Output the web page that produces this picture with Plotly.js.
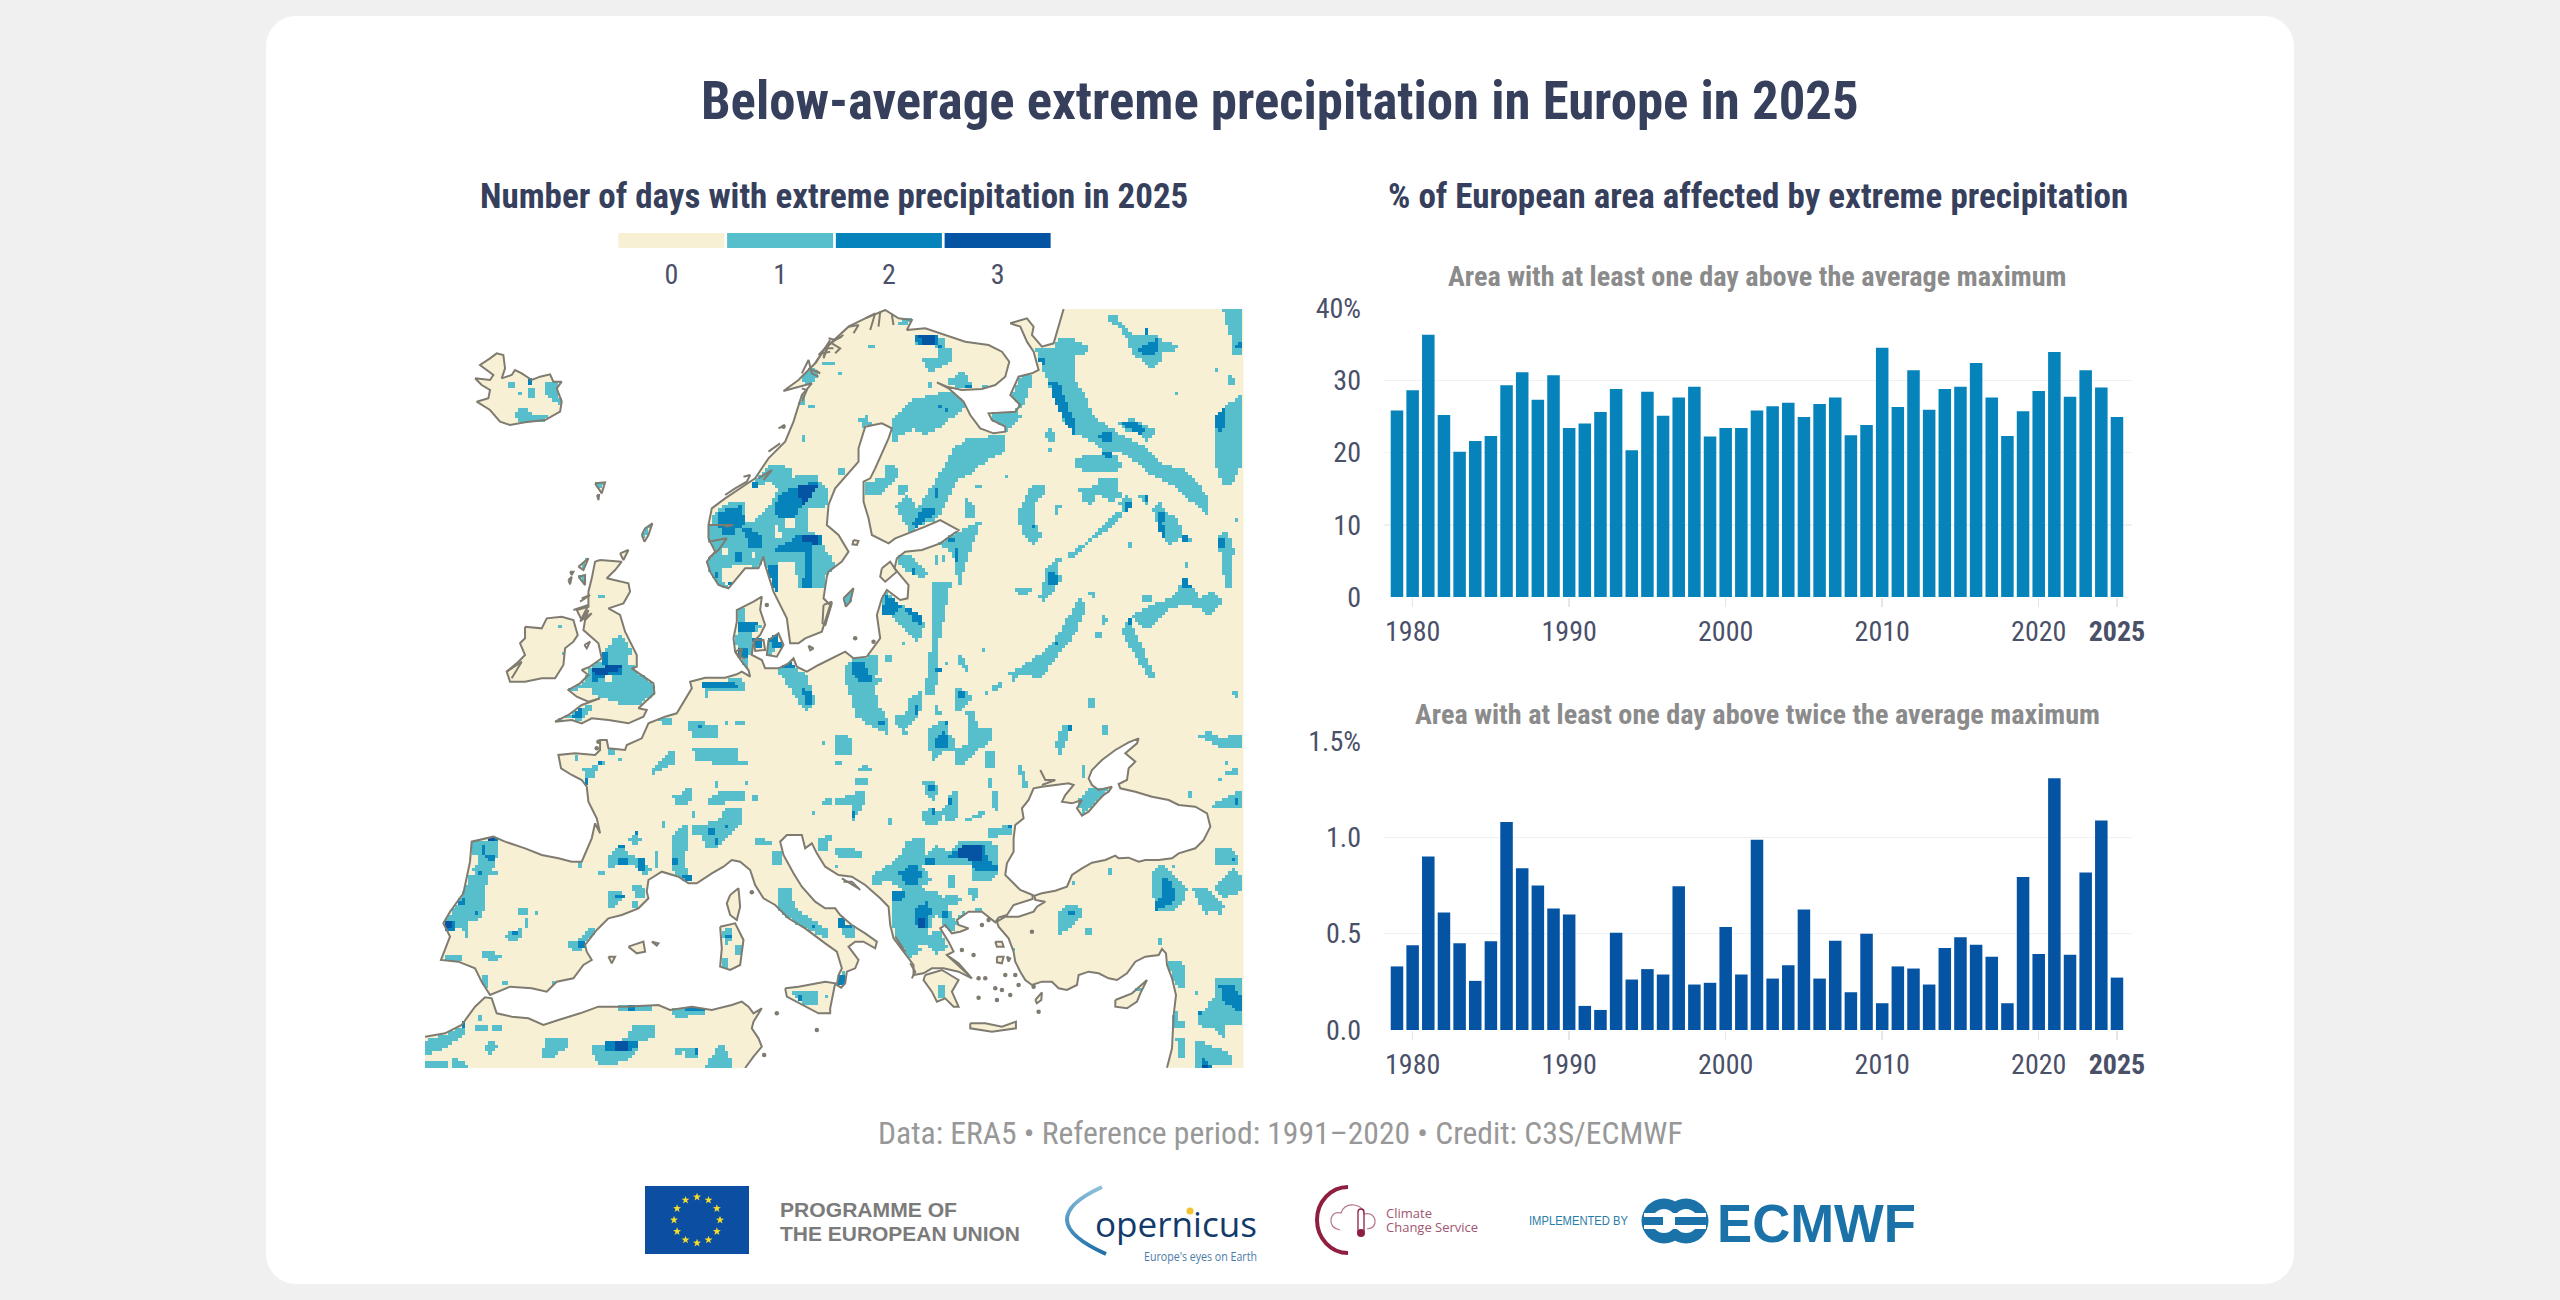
<!DOCTYPE html>
<html><head><meta charset="utf-8">
<script src="https://cdn.plot.ly/plotly-3.0.1.min.js"></script>
<style>
html,body{margin:0;padding:0;background:#f0f0f0;width:2560px;height:1300px;overflow:hidden}
#back{position:absolute;left:0;top:0}
#chart{position:absolute;left:0;top:0;width:2560px;height:1300px}
#chart text{font-stretch:75%!important}
</style></head><body>
<svg id="back" width="2560" height="1300" viewBox="0 0 2560 1300">
<defs><linearGradient id="cop" x1="0" y1="0" x2="0" y2="1"><stop offset="0" stop-color="#8cc0dc"/><stop offset="1" stop-color="#1f6fa8"/></linearGradient></defs>
<rect x="266" y="16" width="2028" height="1268" rx="30" fill="#fff"/>
<rect x="645" y="1186" width="104" height="68" fill="#0b4ea2"/>
<g id="stars" fill="#f5dd2a"></g>
<text x="780" y="1217" font-family="Liberation Sans" font-weight="700" font-size="21" textLength="177" lengthAdjust="spacingAndGlyphs" fill="#7b7b7b">PROGRAMME OF</text>
<text x="780" y="1241" font-family="Liberation Sans" font-weight="700" font-size="21" textLength="240" lengthAdjust="spacingAndGlyphs" fill="#7b7b7b">THE EUROPEAN UNION</text>
<path d="M1102 1187 Q1030 1220 1106 1254" fill="none" stroke="url(#cop)" stroke-width="4"/>
<text x="1095" y="1237" font-family="Open Sans" font-size="35" textLength="162" lengthAdjust="spacingAndGlyphs" fill="#123a6b">opernicus</text>
<circle cx="1190" cy="1211" r="3.5" fill="#f2c230"/>
<text x="1144" y="1261" font-family="Open Sans" font-size="13.5" textLength="113" lengthAdjust="spacingAndGlyphs" fill="#4b7ba8">Europe's eyes on Earth</text>
<path d="M1348 1187 A31 33 0 0 0 1348 1253" fill="none" stroke="#8e1f3f" stroke-width="4"/>
<path d="M1340 1230 q-10 -2 -9 -11 q2 -8 10 -6 q3 -9 13 -8 q9 1 10 9 q9 -2 11 6 q1 8 -8 9" fill="none" stroke="#b4748a" stroke-width="1.2"/>
<rect x="1358" y="1209" width="6" height="24" rx="3" fill="none" stroke="#8e1f3f" stroke-width="1.3"/>
<circle cx="1361" cy="1233" r="4" fill="#8e1f3f"/>
<text x="1386" y="1218" font-family="Open Sans" font-size="13" fill="#a0566f">Climate</text>
<text x="1386" y="1232" font-family="Open Sans" font-size="13" fill="#a0566f">Change Service</text>
<text x="1529" y="1225" font-family="Liberation Sans" font-size="12" textLength="99" lengthAdjust="spacingAndGlyphs" fill="#2a7ca8">IMPLEMENTED BY</text>
<g fill="#1a72a8"><circle cx="1664" cy="1221" r="22.5"/><circle cx="1686" cy="1221" r="22.5"/></g>
<g fill="#fff"><circle cx="1664" cy="1221" r="12"/><circle cx="1686" cy="1221" r="12"/><rect x="1644" y="1213" width="62" height="4"/><rect x="1644" y="1225" width="62" height="4"/></g>
<rect x="1644" y="1217" width="19" height="8" fill="#1a72a8"/><rect x="1675" y="1217" width="31" height="8" fill="#1a72a8"/>
<text x="1717" y="1242" font-family="Liberation Sans" font-weight="700" font-size="54" textLength="199" lengthAdjust="spacingAndGlyphs" fill="#1a72a8">ECMWF</text>
</svg>
<div id="chart"></div>
<script>
// ---- bar chart data ----
const years=[1979,1980,1981,1982,1983,1984,1985,1986,1987,1988,1989,1990,1991,1992,1993,1994,1995,1996,1997,1998,1999,2000,2001,2002,2003,2004,2005,2006,2007,2008,2009,2010,2011,2012,2013,2014,2015,2016,2017,2018,2019,2020,2021,2022,2023,2024,2025];
const areaAboveMax=[25.8,28.6,36.3,25.2,20.1,21.6,22.3,29.3,31.1,27.3,30.7,23.4,24.0,25.6,28.8,20.3,28.4,25.1,27.6,29.1,22.2,23.4,23.4,25.8,26.4,26.9,24.9,26.7,27.6,22.4,23.8,34.5,26.3,31.4,25.9,28.8,29.1,32.4,27.6,22.3,25.7,28.5,33.9,27.7,31.4,29.0,24.9];
const areaAboveTwiceMax=[0.33,0.44,0.90,0.61,0.45,0.255,0.46,1.08,0.84,0.75,0.63,0.60,0.125,0.104,0.505,0.262,0.316,0.288,0.746,0.236,0.245,0.534,0.288,0.987,0.267,0.336,0.626,0.267,0.463,0.196,0.50,0.139,0.33,0.319,0.236,0.425,0.482,0.442,0.38,0.139,0.794,0.394,1.307,0.39,0.817,1.087,0.272];
const yearTicks=[1980,1990,2000,2010,2020,2025];
const yearLabels=['1980','1990','2000','2010','2020','<b>2025</b>'];
const legendDays=['0','1','2','3'];

// ---- map data: outlines, in map units, per quadrant ----
const offsets={A:[0,0],B:[1200,0],C:[0,1140],D:[1200,1140]};
const mainlandCoast=[
['D',[1025,1148,1040,1090,1045,990,1052,930,1040,880,1025,840,1022,805,1010,792,1000,810,960,815,930,830,905,865,875,885,850,880,820,865,790,860,760,870,755,900,725,915,700,910,680,890,650,890,620,900,600,885,585,860,570,830,565,800,550,760,520,725,515,710,540,695,580,695,625,680,635,665,660,650,630,645,628,632,650,625,690,617,725,605,740,570,770,550,800,533,840,525,870,512,880,520,910,518,940,530,960,525,1000,525,1040,520,1060,505,1110,490,1135,465,1155,425,1145,385,1110,365,1060,360,1030,345,980,335,930,320,885,310,880,297,905,285,910,250,930,230,900,205,935,175,940,160,910,172,870,195,830,225,800,255,790,280,800,300,820,315,860,305,850,320,835,330,820,345,790,380,770,392,755,370,770,345,740,355,710,350,720,330,745,300,730,295,680,300,650,305,625,310,610,345,590,370,595,400,570,420,565,460,565,500,545,535,540,570,560,590,585,615,622,630,622,642,565,660,545,690,520,698,510,712,470,680,430,680,395,705,400,720,430,730,405,740,380,745,360,720,345,730,370,770,385,800,365,810,400,835,440,880,400,860,355,850,320,850,295,865,265,870,265,840,235,800,205,760,195,720,190,665,165,640,120,600,80,575,40,570,0,545]],
['C',[1175,505,1160,475,1140,490,1130,450,1085,450,1065,470,1075,510,1105,565,1130,605,1170,650,1200,670]],
['D',[30,670,45,690,80,720,120,745,155,770,150,790,115,770,90,770,70,785,100,825,90,850,65,860,60,895,48,908,35,900,40,870,50,850,35,800]],
['C',[1200,775,1140,730,1090,700,1050,660,1015,640,990,600,975,555,945,530,920,525,895,545,860,565,815,595,790,595,760,575,710,560,670,585,665,620,670,640,640,670,590,690,550,700,515,735,480,780,485,800,500,825,475,840,445,880,395,890,365,920,320,910,255,905,195,930,170,890,150,850,100,830,48,825,75,755,55,715,75,680,115,625,135,530,140,470,205,455,240,470,300,490,350,510,400,520,440,530,470,530,500,460,510,415,525,445,515,400,490,350,485,305,470,285,440,270,408,250,400,210,450,205,510,210,525,195,525,165,545,165,550,190,600,195,605,180,650,160,670,115,720,95,755,85,770,60,800,10]],
['A',[795,1130,840,1118,900,1118,935,1108,950,1100,975,1115,970,1095,950,1070,930,1040,925,1000,935,950,935,915,985,890,1010,875,1005,915,1020,960,1005,990,985,1010,980,1050,1010,1065,1020,1090,1060,1090,1090,1075,1105,1060,1115,1085,1145,1100,1180,1080,1260,1040]],
['B',[85,1060,125,1055,165,1000,155,930,170,880,185,855,225,885,247,880,250,840,225,810,208,790,215,760,240,740,290,735,345,715,400,675,345,645,300,665,260,680,210,700,190,715,140,690,130,640,115,590,115,530,135,520,150,490,190,400,200,370,170,355,120,365,100,430,100,470,55,520,30,550,10,600,5,660,40,690,70,740,50,770,10,800]],
['A',[1205,815,1195,880,1215,900,1190,980,1140,1000,1120,1015,1095,1015,1085,940,1045,860,1020,780,1015,755,1000,790,960,790,910,850,880,840,855,800,845,770,870,740,850,700,850,660,860,610,900,580,960,540,990,520,1030,460,1080,410,1105,350,1130,270,1160,235,1120,245,1075,258,1120,225,1170,175,1215,105]],
['B',[0,130,70,65,120,40,180,15,220,40,260,45,245,75,300,70,360,90,420,110,490,120,530,140,552,170,540,215,510,240,470,252,410,255,365,245,335,232,370,250,415,290,435,330,465,370,505,385,540,380,540,365,500,345,490,325,570,320,585,300,555,270,580,215,620,205,640,195,625,140,605,110,585,65,555,55,605,40,625,65,620,90,650,125,685,115,695,80,715,12]]
];
const mainlandFrame=[['B',[1255,12]],['D',[1255,1149]]];
const africaCoast=[['C',[0,1055,60,1045,110,1020,150,965,180,937,200,940,215,985,260,995,310,1000,355,1020,400,1005,465,985,520,965,600,965,700,960,735,975,800,965,860,975,920,960,950,950,970,965,985,985,1010,970,985,1010,980,1030,1000,1060,1010,1085,985,1115,960,1149]]];
const africaFrame=[['C',[0,1149]]];
const islandsA=[
[150,220,195,225,205,210,165,180,195,160,215,145,235,150,240,190,230,220,260,210,270,195,290,205,320,225,345,215,375,208,385,230,410,230,395,250,410,290,405,320,360,345,300,352,255,360,225,350,195,315,155,290,190,280,195,255,170,240],
[510,535,540,532,530,565,520,550],[516,570,522,570,520,585],[650,690,660,670,682,655,670,690,658,710],
[300,965,350,970,365,940,410,935,445,945,458,990,445,1010,420,1030,415,1080,390,1120,350,1120,300,1130,255,1130,245,1100,280,1070,300,1050,285,1015,300,1000],
[525,765,590,770,570,795,545,820,610,835,615,860,595,895,550,910,585,930,600,980,635,1050,635,1085,620,1090,685,1135,688,1165,660,1190,640,1210,665,1215,655,1235,610,1255,550,1245,500,1240,470,1255,440,1245,390,1250,430,1230,470,1200,525,1180,490,1190,455,1175,430,1155,465,1135,490,1110,470,1095,495,1085,530,1060,520,1015,475,975,480,945,500,925,470,945,455,915,490,905,490,860,500,820,510,770],
[460,785,490,760,475,795],[460,815,480,810,480,840],[585,745,610,735,595,765],[478,1020,495,1010,485,1030],[435,800,445,800,440,810],[430,825,440,815,435,838],
[985,1005,1015,1005,1020,1035,990,1038],[1030,1005,1060,985,1075,1020,1055,1055,1025,1050],[930,1040,950,1030,945,1060],[1150,1022,1165,1030,1155,1036]
];
const islandsB=[[55,880,85,850,75,890,62,905],[170,790,195,770,215,800,180,830,165,815],[85,705,100,708,95,720,82,718],[-5,900,20,890,0,960,-8,955]];
const islandsC=[
[915,630,940,610,945,665,935,705,915,690,905,655],[885,725,930,715,955,765,945,840,915,855,885,845,890,790],
[610,785,655,770,660,800,635,805],[680,770,700,775,695,782],[550,815,570,815,560,835],
[1080,910,1120,905,1200,890,1230,895,1215,970,1215,985,1180,985,1130,960,1085,935]
];
const islandsD=[
[300,870,350,855,400,885,380,920,400,965,385,965,360,940,335,950,320,920,295,885],
[435,1015,480,1015,530,1025,572,1010,572,1030,500,1040,435,1030],
[870,945,920,925,965,885,945,925,935,950,905,970,870,965],
[630,945,650,922,648,945,635,955],[510,770,530,770,535,785,515,785],[515,815,535,815,530,835,515,832],[545,815,555,820,550,830]
];
const coastDetailA=[[1130,205,1150,165,1160,205,1180,215],[1170,175,1190,145,1215,140],[1210,100,1230,105,1250,95],[850,660,925,660,900,665],[850,710,905,700,880,735,850,760],[955,515,975,510,965,530,930,550,900,570],[1000,520,1040,495,1015,525],[1030,440,1065,415],[445,915,490,900,470,940],[1220,895,1200,960],[1060,370,1080,360],[1170,195,1185,205,1150,190],[1130,250,1145,255,1130,290],[1195,155,1205,130,1225,130],[950,1030,940,1055,960,1060],[470,880,495,870,465,890],[465,950,490,915,480,945],[245,1100,290,1070,260,1120]];
const coastDetailB=[[0,130,30,105,55,90],[70,65,100,60,85,85],[120,40,150,25,135,75],[165,20,160,65],[200,30,205,60],[20,115,45,130,30,145],[-20,150,10,120,-5,160]];
const coastDetailD=[[50,580,100,610],[55,590,80,590,105,615],[645,255,660,285,690,285,650,300],[365,810,430,870],[255,835,270,860,260,880],[210,755,240,800,225,785]];
const islets=[[1820,1880],[1670,1860],[1690,1845],[1610,1935],[1645,1950],[1660,2020],[1680,2020],[1710,2050],[1730,2055],[1660,2078],[1715,2085],[1755,2070],[1840,2120],[1770,2010],[1740,2010],[1780,2040],[1825,2045],[1055,2125],[1175,2175],[980,1762],[1017,2250],[520,1310],[515,1330],[1290,1000],[1345,1010],[1025,900],[1075,365]];

const level1A=[
[365,235,395,232,415,300,385,290,365,265],[275,320,300,305,325,325,370,330,365,345,290,355,275,340],[250,235,268,235,268,250,250,250],[310,250,328,245,328,278,310,278],[280,265,290,265,285,275],
[455,775,490,755,480,795],[460,810,485,810,480,840],[510,530,540,530,530,555,515,550],[650,690,680,655,660,705],[522,868,542,868,542,882,522,882],[403,962,413,962,413,975,403,975],[412,1042,420,1042,420,1052,412,1052],
[1115,200,1150,165,1180,210,1160,240,1130,230],[1195,170,1232,170,1232,185,1195,185],[1245,198,1250,198,1250,212,1245,212],[1130,275,1145,275,1145,295,1105,315,1125,290],[1150,300,1170,300,1170,315,1150,315],[1130,392,1138,392,1138,408,1130,408],
[1000,515,1045,475,1070,480,1100,490,1100,520,1130,510,1180,510,1185,530,1210,550,1205,605,1150,610,1145,680,1190,690,1195,720,1225,770,1230,800,1195,850,1150,850,1120,850,1110,770,1060,770,1050,860,1030,800,1015,760,1000,800,960,775,895,790,890,830,930,855,905,855,880,850,855,800,850,720,855,660,870,620,920,590,960,595,958,650,975,655,1020,620,1045,585,1060,555,1030,530,990,548,985,530],
[1245,495,1260,495,1260,510,1245,510],
[945,915,965,910,960,945,940,950],[945,955,1000,955,1015,965,985,985,975,1050,945,1050,930,1010],[1020,1000,1060,985,1070,1025,1030,1050],[990,1010,1015,1010,1015,1035,990,1035],[945,1050,975,1050,975,1080,950,1095],
[1065,1075,1100,1070,1125,1100,1145,1105,1165,1170,1170,1200,1150,1220,1135,1210,1100,1160,1065,1110],
[835,1135,945,1120,965,1130,965,1155,855,1160,850,1185,845,1185],
[585,990,600,1000,620,1040,605,1070,635,1085,685,1130,690,1165,645,1200,600,1200,530,1180,500,1165,495,1145,430,1165,430,1150,470,1135,500,1080,530,1070,540,1040,555,1020,560,1005]
];
const level1B=[
[230,40,260,45,245,65,225,55],[265,90,335,90,360,105,355,140,340,135,330,125,270,125],[295,165,335,160,345,130,380,135,380,170,340,190,325,205,300,190],[315,230,325,230,325,255,315,255],[375,225,410,200,430,215,445,245,430,255,375,240],[470,240,490,240,490,250,470,250],[135,120,148,120,148,135,135,135],[15,168,30,168,30,182,15,182],[45,200,50,200,50,212,45,212],[0,170,10,170,10,182,0,182],
[200,350,260,285,340,265,385,262,420,295,410,320,375,345,345,370,300,390,265,370,225,395,210,420,195,400],[100,345,130,330,140,360,115,370],
[555,275,590,215,625,215,600,300,570,325,555,315],[495,320,580,320,590,335,545,385,540,365,500,345],
[430,400,545,390,535,440,470,480,440,510,400,520,360,600,340,640,290,660,260,690,210,600,250,570,275,610,310,560,350,495,385,430],
[120,530,180,520,175,480,210,475,222,510,190,550,150,575,120,575],[40,495,60,495,60,510,40,510],[225,545,255,545,240,570,225,570],[415,590,430,580,455,620,450,645,425,635],
[345,700,400,680,470,645,450,700,425,770,410,810,405,845,395,810,385,760,375,735,345,720],[450,540,468,540,468,550,450,550],[540,510,550,510,550,525,540,525],
[215,750,255,745,300,790,315,805,300,820,270,810,230,790],[333,755,340,755,340,785,333,785],[350,755,357,755,352,785,345,785],
[165,875,190,860,215,890,260,915,300,950,280,1020,235,970,205,940,170,920],[325,835,380,825,365,900,345,1000,345,1090,330,1170,295,1170,310,1090,320,990,315,900],[55,880,80,860,75,890,60,900],
[65,1080,85,1065,160,1050,165,1100,150,1120,175,1120,150,1140,145,1170,75,1170,60,1130],[185,1055,200,1055,195,1075,185,1075],[395,1050,405,1050,435,1090,430,1100,400,1070],[360,1070,370,1070,370,1080,360,1080],[470,1030,480,1030,480,1045,470,1045],[228,1005,235,1005,235,1015,228,1015],
[852,35,875,25,890,60,925,90,970,95,995,90,1015,115,1040,115,1065,130,1040,140,1015,145,1010,160,985,195,960,170,925,150,905,100,880,65,855,50],
[625,130,690,125,700,100,740,100,795,130,780,150,755,155,755,230,790,290,800,330,850,365,905,400,960,425,1020,480,1070,490,1115,525,1155,590,1150,630,1100,590,1040,540,980,510,930,470,885,440,840,440,800,410,745,385,715,345,690,290,660,210,640,150],
[750,460,820,445,880,455,890,490,850,505,780,500,755,485],[885,355,925,340,960,360,995,375,970,410,940,385,900,375],[1170,340,1200,305,1250,270,1255,390,1250,480,1220,540,1195,540,1175,490,1170,400],[1195,15,1255,15,1255,150,1225,150,1220,110,1205,60],
[1205,200,1225,215,1230,245,1210,245],[1170,190,1175,190,1175,200,1170,200],[1050,258,1058,258,1058,270,1050,270],[1228,640,1236,640,1236,650,1228,650],[665,380,680,365,690,395,700,415,685,415,665,400],[668,430,680,430,680,445,668,445],
[580,625,610,560,630,540,665,535,660,565,630,600,630,650,650,695,630,720,590,685],[690,600,708,595,700,630,690,630],[762,555,815,540,825,525,875,520,890,580,860,590,815,570,800,600,775,590],[880,590,910,570,925,600,895,620],
[725,750,800,700,860,640,880,620,900,615,870,660,810,700,740,760],[660,800,680,770,720,755,695,780,710,830,690,850,655,890,640,880,650,860],[575,855,600,845,625,860,580,875],[945,575,970,570,975,600,950,590],
[980,610,1010,590,1020,620,1060,640,1075,700,1030,720,1000,660],[1070,700,1095,695,1100,715,1070,715],[1180,690,1205,680,1230,740,1215,770,1225,850,1205,855,1190,780],[912,715,925,715,925,728,912,728],
[915,930,1000,890,1040,880,1080,820,1100,840,1125,880,1165,860,1200,890,1150,935,1130,910,1075,900,1040,910,965,975],[950,875,980,870,980,885,950,890],[795,865,815,860,815,875,800,880],[1085,775,1095,775,1095,790,1085,790],
[555,1105,620,1065,680,1020,750,900,770,880,785,900,755,980,700,1050,650,1120,590,1110,560,1130],[835,930,850,950,835,960],[810,985,830,985,830,995,815,1000],[890,980,905,950,930,980,990,1110,980,1125,945,1080],[520,1130,530,1130,525,1150,510,1150]
];
const level1C=[
[395,110,440,85,470,70,500,60,495,85,465,110,430,100],[705,105,745,95,745,120,710,122],[790,115,815,110,880,125,875,165,800,155],[902,110,912,110,912,122,902,122],[930,112,958,112,958,125,930,125],
[805,195,880,190,935,185,940,230,972,232,972,245,880,240,815,225],[678,255,720,210,750,200,750,235,720,250,680,268],[1195,170,1205,170,1205,185,1195,185],[1235,155,1260,150,1260,210,1235,210],[1228,228,1248,225,1248,240,1228,240],
[875,290,885,290,885,315,875,315],[965,292,975,292,975,305,965,305],[745,335,770,330,790,310,802,310,800,350,775,365,748,365],[850,340,890,320,960,320,960,350,905,355,855,358],[980,335,1000,335,1000,348,982,348],[1195,350,1215,340,1215,360,1195,360],[1235,340,1260,335,1260,358,1235,358],[1162,380,1172,380,1172,392,1162,392],[805,385,815,385,815,400,805,400],[708,408,720,408,720,435,708,435],
[800,420,830,420,880,410,900,370,950,365,950,420,900,465,870,490,845,490,830,455,805,455],[745,450,775,420,790,425,785,500,780,540,800,590,775,590,740,555,745,500],[615,465,635,445,650,465,630,480],[555,510,580,485,600,495,635,520,680,555,660,570,630,545,590,540,555,550],[690,510,705,495,705,550,690,550],[525,560,538,560,538,575,525,575],[465,535,475,535,475,548,465,548],
[555,615,590,625,590,650,570,670,550,670,545,640],[620,605,650,595,665,625,655,640,635,640],[625,652,638,652,638,668,625,668],[988,455,1040,470,1040,485,990,482],[1040,505,1070,505,1075,545,1040,545],[1180,460,1215,450,1215,495,1180,500],[1055,610,1095,605,1110,670,1150,695,1210,740,1205,765,1150,735,1100,715,1065,680],
[455,215,465,215,465,228,455,228],[475,255,520,235,510,280,480,285],[525,230,548,230,540,243,525,243],[585,222,595,222,595,235,585,235],[550,190,575,190,565,212,555,212],
[140,475,225,465,215,520,200,560,225,555,220,570,195,570,175,630,180,670,160,710,135,710,130,760,120,760,110,725,65,740,55,720,105,640,135,575,160,575,140,550,165,530,165,510,140,505],
[285,670,310,670,305,695,285,695],[332,678,345,678,345,690,332,690],[300,705,315,705,310,728,300,728],[235,750,290,730,295,755,270,770,240,760],[170,795,230,810,220,830,170,820],[65,815,115,810,110,835,65,825],[432,775,455,770,480,740,525,725,480,780,470,805,450,800,435,790],[165,870,185,870,195,925,180,915],[235,888,248,888,248,900,235,900],[380,890,400,885,375,915],
[160,995,172,995,172,1008,160,1008],[150,1025,190,1020,190,1045,155,1040],[205,1022,230,1022,230,1038,205,1035],[0,1068,70,1045,125,1020,120,1050,90,1070,50,1095,0,1110],[190,1070,205,1065,218,1090,195,1110,180,1095],[350,1105,365,1065,430,1060,430,1085,385,1118,355,1118],
[500,1080,545,1075,610,1060,620,1020,690,1020,690,1060,640,1075,640,1100,600,1130,540,1145,510,1130],[748,1092,820,1092,820,1125,785,1125,780,1100,750,1115],[845,1140,880,1085,900,1085,925,1135,925,1148,845,1148],[0,1130,75,1135,75,1148,0,1148],[85,1120,105,1125,130,1148,85,1148],
[740,975,790,960,840,965,840,990,750,1000],[585,965,685,960,685,975,635,985,585,985],[890,740,925,725,925,765,900,780,895,760],[935,785,950,785,950,810,935,810],[892,825,915,825,915,850,895,850],[1100,925,1185,918,1180,965,1135,955],[1200,935,1210,935,1210,945,1200,945],[1240,870,1260,860,1260,905,1240,905]
];
const level1D=[
[75,0,150,0,160,60,195,115,190,150,130,120,95,95,80,50],[210,95,245,85,250,40,295,15,295,60,280,95,265,115,240,130,255,155,235,155,225,125,210,120],[325,60,340,55,350,95,335,95],[388,40,395,15,415,15,445,40,420,60,405,85,390,70],[310,130,345,110,370,115,375,150,395,175,385,200,350,200,325,235,315,200],[425,85,450,80,460,130,500,130,500,170,460,195,420,235,390,240,385,200,430,175],
[482,205,510,205,512,250,482,250],[493,282,505,282,505,308,493,308],[500,325,518,325,522,380,510,380,495,350],[578,245,590,245,610,310,595,310],[30,165,65,150,80,165,75,210,40,210],[25,228,45,228,45,240,27,240],[105,250,125,235,145,260,105,265],[90,283,135,280,135,295,90,297],[295,295,325,285,345,320,325,350,305,325],
[35,345,90,325,120,320,120,350,95,395,80,415,78,360,35,358],[0,340,20,335,20,360,0,360],[285,380,330,370,345,385,370,350,380,320,400,320,400,360,395,405,365,410,350,385,345,415,300,420],[425,402,480,378,480,390,425,412],[190,405,200,405,200,420,190,420],[495,435,555,420,565,440,550,450,495,458],[0,450,18,450,10,495,0,495],[30,495,70,490,115,500,115,518,40,515],[35,540,45,540,45,555,35,555],
[145,570,215,525,245,470,295,455,300,510,335,480,370,505,400,470,470,465,515,480,525,560,490,590,445,585,440,540,385,535,355,545,300,535,290,545,325,590,290,600,305,620,335,615,350,640,380,625,410,640,395,660,370,665,385,700,400,700,390,740,355,735,345,700,330,690,305,750,340,735,370,790,330,810,305,780,280,785,290,800,255,820,215,760,205,730,195,660,230,610,190,590,145,605],
[368,575,395,575,385,615,368,610],[430,610,460,615,465,640,440,650],[395,690,470,670,470,680,400,700],[760,350,790,315,860,305,850,325,820,345,790,380,770,390],[705,680,730,655,770,670,765,705,720,740,700,750],[855,555,865,555,865,570,855,570],[785,733,797,733,797,747,785,747],[745,590,755,590,755,600,745,600],[998,762,1008,762,1008,778,998,778],
[985,560,1010,535,1040,570,1090,610,1080,640,1050,680,1030,680,990,680,985,640],[1105,615,1145,605,1170,640,1200,660,1190,690,1160,675,1140,690],[1165,610,1220,550,1255,580,1255,620,1195,640],[1170,495,1215,490,1240,520,1235,540,1175,545],[1118,155,1150,140,1190,160,1255,145,1255,185,1195,195,1150,170],[1200,260,1240,250,1240,265,1205,275],[1175,280,1185,275,1185,290],[1200,230,1210,230,1210,240,1200,240],[1165,360,1215,330,1255,315,1255,365,1165,372],[1090,325,1100,325,1100,340,1090,340],[1045,540,1052,540,1052,550],
[690,185,705,140,710,115,740,125,730,165,705,210],[835,120,855,120,845,150,835,145],[785,40,805,40,808,70,792,72],[1218,15,1240,20,1235,45],[765,240,778,240,780,280,768,280],[1025,825,1075,835,1080,910,1050,900],[1045,950,1065,1010,1090,1020,1065,1030,1045,1025],
[1120,1000,1170,935,1175,880,1200,885,1255,880,1255,1020,1205,1015,1205,1065,1165,1030,1130,1030],[1055,1065,1085,1065,1080,1120,1060,1120],[1115,1075,1140,1075,1175,1090,1225,1110,1220,1140,1115,1148],[1115,918,1125,918,1125,930,1115,930],[0,735,10,735,10,765,0,765],[45,710,85,720,90,755,60,765],[40,870,65,870,60,900,40,905],[345,900,360,905,365,945,345,945],[925,915,950,905,945,925],[555,780,570,790,575,835,555,835],[640,885,680,890,650,905],[300,0,320,0,310,25,300,20],[500,0,525,0,520,15,500,20],[485,25,495,25,495,35,485,35]
];
const level2A=[
[880,620,925,610,950,600,960,660,935,670,925,695,895,695,880,660],[950,670,975,670,1010,690,1005,730,975,725],[985,530,1005,530,1005,548,985,548],[1060,570,1130,540,1180,530,1160,575,1130,605,1110,640,1060,640,1050,610],
[1040,740,1070,720,1130,685,1190,690,1185,725,1165,720,1160,850,1140,850,1135,740,1065,745],[930,745,950,745,948,772,930,772],[1130,820,1150,820,1150,850,1130,850],[1030,780,1060,780,1055,860,1040,850],[870,800,880,800,880,825,870,825],[910,835,930,835,930,850,910,850],
[945,955,1000,955,985,985,945,985],[945,1030,975,1030,970,1060,945,1060],[1030,985,1060,985,1070,1030,1040,1030],[985,1005,1015,1005,1015,1035,985,1035],[1065,1075,1100,1075,1110,1090,1065,1095],[1130,1140,1160,1170,1135,1170],[535,1040,555,1040,555,1080,530,1080],[500,1090,590,1080,590,1110,540,1115,500,1135],[835,1130,930,1130,945,1145,835,1150],[315,225,325,225,325,240,315,240],[985,535,1005,535,1005,548,985,548]
];
const level2B=[
[675,235,700,230,725,290,755,370,745,390,710,330,685,280],[640,160,660,155,665,180,650,185],[820,395,845,375,865,380,855,410,830,410],[830,445,860,445,865,465,840,460],[890,350,925,345,960,370,950,390,905,365],[1170,340,1195,310,1205,350,1185,385,1175,365],[950,120,985,110,1000,100,1005,110,990,150,965,155,945,135],[965,75,975,75,975,90,965,90],[1225,120,1255,110,1255,125,1235,130],[895,590,915,590,920,610,900,620],[1000,625,1020,620,1025,650,1005,660],[1000,660,1015,660,1025,700,1010,695],[1075,695,1090,695,1095,710,1075,710],[1180,705,1195,700,1200,735,1185,735],[665,800,690,800,705,835,675,845],[1065,820,1090,825,1100,850,1075,855],[690,1010,705,1010,705,1025,690,1025],[915,945,925,945,925,965,915,965],[960,575,970,575,970,590,960,590],[620,660,628,660,628,675,620,675],
[370,700,390,700,390,715,370,715],[385,730,405,730,405,770,395,770],[260,790,270,790,270,810,260,810],[180,870,215,885,230,910,205,930,170,925],[240,910,265,915,295,940,290,960,265,950],[80,1065,115,1070,145,1130,100,1130,80,1100],[290,610,330,605,335,630,300,640,275,680,262,660],[328,555,345,555,345,585,330,585],[335,1090,348,1090,348,1105,335,1105],[345,300,350,300,350,315,345,315],[360,310,375,310,375,322,360,322],[345,120,355,120,355,135,345,135],[265,85,335,90,345,120,285,125],[420,240,440,240,440,255,420,255]
];
const level2C=[
[440,90,470,65,475,100,450,105],[825,122,835,122,835,132,825,132],[475,283,495,283,495,298,480,298],[525,230,535,230,535,240,525,240],[580,480,600,480,600,495,582,495],[585,525,610,525,610,540,585,540],[640,520,665,520,665,560,640,560],[630,440,640,440,640,455,630,455],[745,520,760,515,762,545,745,545],[770,570,800,575,800,595,780,590],[850,435,875,435,875,448,850,448],[870,465,885,465,885,478,870,478],[898,422,906,422,906,434,898,434],[575,628,605,630,600,645,575,645],[190,460,225,460,215,470,190,470],[185,515,210,510,205,530,188,530],[175,485,185,485,180,510,175,510],[160,560,175,560,175,572,160,572],[110,640,125,635,120,655,100,665],[60,705,90,715,90,740,65,742],[150,680,162,680,162,695,150,695],[260,738,285,738,285,752,260,752],[465,775,480,775,480,795,465,795],[605,962,635,962,635,985,608,985],[780,965,835,962,838,975,785,982],[545,1070,640,1065,635,1090,605,1100,545,1098],[1120,935,1135,935,1135,950,1120,950],[810,1095,822,1095,822,1110,810,1110],[115,1015,125,1015,120,1030,110,1030],[905,750,920,750,915,765,905,765],[1245,705,1260,705,1260,735,1245,730],[1165,725,1175,725,1175,735,1165,735],[1245,870,1260,870,1260,890,1245,900],[1140,20,1165,20,1165,65,1140,65],[845,0,945,0,945,8,850,15]
];
const level2D=[
[165,110,178,105,178,122,165,122],[330,165,360,140,375,155,370,185,335,190],[360,112,370,112,368,122,360,122],[270,65,282,65,280,90,270,90],[405,20,418,20,418,40,405,40],[310,300,330,300,335,325,315,325],[372,345,382,345,382,362,372,362],[325,375,333,375,333,388,325,388],[85,385,95,385,95,398,85,398],[548,420,565,420,562,435,548,435],[225,565,270,535,290,565,275,600,240,605],[205,620,235,615,240,640,200,655],[265,680,305,650,320,675,305,735,285,735,270,705],[355,685,372,685,372,700,355,700],[300,520,335,520,330,535,300,540],[365,510,430,480,480,480,490,530,525,545,525,555,450,560,430,525,370,525],[735,680,748,680,748,695,735,695],[990,655,1010,635,1015,580,1040,590,1055,650,1020,665,990,680],[1185,905,1225,900,1255,945,1255,985,1225,970,1190,945],[1125,980,1135,980,1135,992,1125,992],[1130,1120,1160,1148,1125,1148],[730,125,740,125,740,138,730,138],[1220,520,1232,520,1232,530,1220,530],[1230,345,1245,345,1245,358,1230,358],[48,710,85,725,85,735,55,730],[40,870,62,870,55,900,45,905]
];
const level3A=[[1125,540,1185,535,1160,570,1135,600,1120,565],[1130,685,1185,690,1185,720,1135,710],[500,1090,540,1085,590,1085,570,1100,510,1115]];
const level3B=[[280,92,335,95,335,120,290,115]];
const level3C=[[570,1070,610,1075,605,1100,570,1100],[60,710,80,715,85,735,65,735],[195,458,215,458,215,468,195,468]];
const level3D=[[405,490,430,475,475,480,470,525,445,535,430,520,405,525],[285,705,300,705,295,735,285,730],[1140,1130,1150,1148,1130,1148]];
const level0A=[[895,735,915,735,915,755,895,755],[1050,655,1075,700,1050,700],[1085,640,1110,640,1110,668,1085,668],[980,745,990,745,990,760,980,760],[540,1115,565,1115,565,1130,540,1130]];

const MAP_W=2455, MAP_TOP=12, MAP_BOTTOM=2289, CELL=10;
const colours=['#f7f0d4','#57bfcb','#0583ba','#0554a4'];
const ink='#36405c', grey='#8b8b8b', tickInk='#4a5068', coastInk='#7f7b70';

// ---- helpers ----
function shift(crop,flat){const o=offsets[crop],p=[];for(let i=0;i<flat.length;i+=2)p.push([flat[i]+o[0],flat[i+1]+o[1]]);return p;}
const join=pieces=>pieces.flatMap(([c,f])=>shift(c,f));
const mainland=join(mainlandCoast), africa=join(africaCoast);
const landPolys=[mainland.concat(join(mainlandFrame)),africa.concat(join(africaFrame))]
  .concat(islandsA.map(f=>shift('A',f)),islandsB.map(f=>shift('B',f)),islandsC.map(f=>shift('C',f)),islandsD.map(f=>shift('D',f)));
function inside(poly,x,y){let c=false;for(let i=0,j=poly.length-1;i<poly.length;j=i++){const a=poly[i],b=poly[j];
  if((a[1]>y)!==(b[1]>y)&&x<(b[0]-a[0])*(y-a[1])/(b[1]-a[1])+a[0])c=!c;}return c;}
const nCols=Math.ceil(MAP_W/CELL), nRows=Math.ceil(MAP_BOTTOM/CELL);
const cellX=Array.from({length:nCols},(_,i)=>(i+.5)*CELL), cellY=Array.from({length:nRows},(_,i)=>(i+.5)*CELL);
const cells=cellY.map(()=>cellX.map(()=>null));
function paint(crop,list,val){list.forEach(f=>{const p=shift(crop,f);
  const xs=p.map(q=>q[0]),ys=p.map(q=>q[1]);let hit=false;
  for(let r=Math.max(0,Math.floor(Math.min(...ys)/CELL));r<nRows&&cellY[r]<=Math.max(...ys);r++)
   for(let c=Math.max(0,Math.floor(Math.min(...xs)/CELL));c<nCols&&cellX[c]<=Math.max(...xs);c++)
    if(inside(p,cellX[c],cellY[r])){cells[r][c]=val;hit=true;}
  if(!hit){const r=Math.floor((ys.reduce((a,b)=>a+b)/ys.length)/CELL),c=Math.floor((xs.reduce((a,b)=>a+b)/xs.length)/CELL);
   if(r>=0&&r<nRows&&c>=0&&c<nCols)cells[r][c]=val;}
});}
[['A',level1A],['B',level1B],['C',level1C],['D',level1D]].forEach(([c,l])=>paint(c,l,1));
paint('A',level0A,null);
[['A',level2A],['B',level2B],['C',level2C],['D',level2D]].forEach(([c,l])=>paint(c,l,2));
[['A',level3A],['B',level3B],['C',level3C],['D',level3D]].forEach(([c,l])=>paint(c,l,3));
for(let r=0;r<nRows;r++)for(let c=0;c<nCols;c++)if(cells[r][c]!==null&&!landPolys.some(p=>inside(p,cellX[c],cellY[r])))cells[r][c]=null;
function xyOf(polys,closed){const x=[],y=[];polys.forEach(p=>{p.forEach(q=>{x.push(q[0]);y.push(q[1]);});if(closed&&p.length){x.push(p[0][0]);y.push(p[0][1]);}x.push(null);y.push(null);});return {x,y};}
const landXY=xyOf(landPolys,true);
const coastXY=(()=>{const a=xyOf([mainland,africa],false),b=xyOf(landPolys.slice(2),true),
  c=xyOf(coastDetailA.map(f=>shift('A',f)).concat(coastDetailB.map(f=>shift('B',f)),coastDetailD.map(f=>shift('D',f))),false);
  return {x:a.x.concat(b.x,c.x),y:a.y.concat(b.y,c.y)};})();

// decorative EU stars
const starHost=document.getElementById('stars');
for(let i=0;i<12;i++){const a=i*Math.PI/6,cx=697+23*Math.sin(a),cy=1220-23*Math.cos(a);let s='';
  for(let k=0;k<10;k++){const r=k%2?1.7:4.2,t=k*Math.PI/5;s+=(cx+r*Math.sin(t)).toFixed(1)+','+(cy-r*Math.cos(t)).toFixed(1)+' ';}
  const e=document.createElementNS('http://www.w3.org/2000/svg','polygon');e.setAttribute('points',s);starHost.appendChild(e);}

// ---- plot ----
const W=2560,H=1300, FONT='"Roboto Condensed","Roboto","Liberation Sans Narrow",sans-serif';
const dx=(a,b)=>[a/W,b/W], dy=(t,b)=>[1-b/H,1-t/H];
const data=[
 {type:'bar',x:years,y:areaAboveMax,xaxis:'x',yaxis:'y',marker:{color:colours[2]},hoverinfo:'x+y'},
 {type:'bar',x:years,y:areaAboveTwiceMax,xaxis:'x2',yaxis:'y2',marker:{color:colours[3]},hoverinfo:'x+y'},
 {type:'scatter',mode:'lines',x:landXY.x,y:landXY.y,xaxis:'x3',yaxis:'y3',fill:'toself',fillcolor:colours[0],line:{width:0,color:colours[0]},hoverinfo:'skip'},
 {type:'heatmap',x:cellX,y:cellY,z:cells,xaxis:'x4',yaxis:'y4',zmin:1,zmax:3,showscale:false,hoverinfo:'skip',zsmooth:false,
  colorscale:[[0,colours[1]],[0.33,colours[1]],[0.33,colours[2]],[0.67,colours[2]],[0.67,colours[3]],[1,colours[3]]]},
 {type:'scatter',mode:'lines',x:coastXY.x,y:coastXY.y,xaxis:'x4',yaxis:'y4',line:{color:coastInk,width:2},hoverinfo:'skip',connectgaps:false},
 {type:'scatter',mode:'markers',x:islets.map(p=>p[0]),y:islets.map(p=>p[1]),xaxis:'x4',yaxis:'y4',marker:{size:4.5,color:coastInk},hoverinfo:'skip'},
 {type:'bar',x:legendDays,y:legendDays.map(()=>1),xaxis:'x5',yaxis:'y5',width:0.975,marker:{color:colours},hoverinfo:'skip'}
];
const barX=(d,anc)=>({domain:dx(1384,2132),range:[1978.17,2025.96],tickvals:yearTicks,ticktext:yearLabels,ticks:'outside',ticklen:9,tickwidth:1.5,tickcolor:'#e6e6e6',showgrid:false,zeroline:false,showline:false,anchor:anc,fixedrange:true,tickfont:{family:FONT,size:28,color:tickInk},ticklabelstandoff:0});
const barY=(d,anc,rng,vals,txt)=>({domain:d,range:rng,tickvals:vals,ticktext:txt,gridcolor:'#f1f1f1',gridwidth:1.5,zeroline:false,showline:false,anchor:anc,fixedrange:true,ticks:'',tickfont:{family:FONT,size:28,color:tickInk},ticklabelstandoff:22});
const hidden={visible:false,fixedrange:true,showgrid:false,zeroline:false};
const mapDomX=dx(425,1243.7), mapDomY=dy(309,1068);
const note=(t,px,py,size,color,weight)=>({text:t,x:px/W,y:1-py/H,xref:'paper',yref:'paper',xanchor:'center',yanchor:'middle',showarrow:false,font:{family:FONT,size,color,weight}});
const layout={
 width:W,height:H,margin:{l:0,r:0,t:0,b:0},paper_bgcolor:'rgba(0,0,0,0)',plot_bgcolor:'rgba(0,0,0,0)',showlegend:false,bargap:0.2,
 font:{family:FONT},
 xaxis:barX(0,'y'),yaxis:barY(dy(308,597),'x',[0,40],[0,10,20,30,40],['0','10','20','30','40%']),
 xaxis2:barX(0,'y2'),yaxis2:barY(dy(741,1030),'x2',[0,1.5],[0,0.5,1,1.5],['0.0','0.5','1.0','1.5%']),
 xaxis3:{...hidden,domain:mapDomX,range:[0,MAP_W],anchor:'y3'},
 yaxis3:{...hidden,domain:mapDomY,range:[MAP_BOTTOM,MAP_TOP],anchor:'x3'},
 xaxis4:{...hidden,range:[0,MAP_W],overlaying:'x3',anchor:'y4'},
 yaxis4:{...hidden,range:[MAP_BOTTOM,MAP_TOP],overlaying:'y3',anchor:'x4'},
 xaxis5:{domain:dx(617,1052),type:'category',range:[-0.5,3.5],showgrid:false,zeroline:false,showline:false,ticks:'',anchor:'y5',fixedrange:true,tickfont:{family:FONT,size:28,color:tickInk},ticklabelstandoff:7},
 yaxis5:{domain:dy(233,248),range:[0,1],visible:false,anchor:'x5',fixedrange:true},
 annotations:[
  note('Below-average extreme precipitation in Europe in 2025',1280,101,52.8,ink,700),
  note('Number of days with extreme precipitation in 2025',834,196,35,ink,700),
  note('% of European area affected by extreme precipitation',1758,196,35,ink,700),
  note('Area with at least one day above the average maximum',1757,277,28.2,grey,700),
  note('Area with at least one day above twice the average maximum',1757,714,28.2,grey,700),
  note('Data: ERA5 • Reference period: 1991–2020 • Credit: C3S/ECMWF',1280,1133,31.6,'#989898',400)
 ]
};
Plotly.newPlot('chart',data,layout,{displayModeBar:false,staticPlot:true});
</script>
</body></html>
